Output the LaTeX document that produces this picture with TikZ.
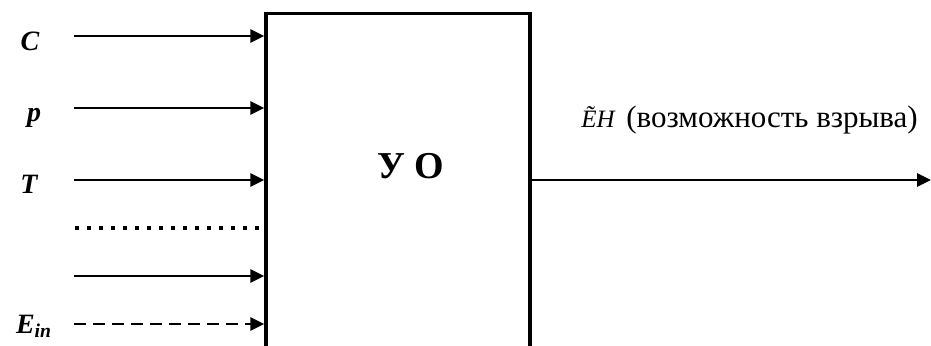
\documentclass[tikz,border=0pt]{standalone}
\usepackage{fontspec}
\setmainfont{Liberation Serif}
\usetikzlibrary{arrows.meta, positioning}

\begin{document}
\begin{tikzpicture}[x=0.5pt, y=-0.5pt,
  inarrow/.style={-{Triangle[length=7pt, width=6.5pt]}, line width=1.3pt},
  invar/.style={anchor=base, font=\fontsize{14}{16}\selectfont\bfseries\itshape},
  block/.style={rectangle, draw, line width=1.7pt, minimum width=132pt,
                minimum height=200pt, anchor=north, inner sep=0pt}
]
\useasboundingbox (0,0) rectangle (931,345);
\clip (0,0) rectangle (931,345);

% object block
\node[block] (uo) at (398,12) {};
\node[anchor=base, font=\fontsize{19}{22}\selectfont\bfseries] (uotext) at (411,178) {У О};

% inputs
\node[invar] (c) at (30,50) {C};
\node[invar] (p) at (34,121) {p};
\node[invar] (t) at (29,193) {T};
\node[invar, anchor=base west] (ein) at (9,333) {E\textsubscript{in}};

\coordinate (cin) at (74,36);
\coordinate (pin) at (74,108);
\coordinate (tin) at (74,180);
\coordinate (dotin) at (75,228);
\coordinate (xin) at (74,276);
\coordinate (ein0) at (74,324);

\draw[inarrow] (cin) -- (cin -| uo.west);
\draw[inarrow] (pin) -- (pin -| uo.west);
\draw[inarrow] (tin) -- (tin -| uo.west);
\draw[line width=2pt, dash pattern=on 2pt off 4pt] (dotin) -- ([xshift=-2pt]dotin -| uo.west);
\draw[inarrow] (xin) -- (xin -| uo.west);
\draw[inarrow, dash pattern=on 6pt off 3.5pt] (ein0) -- (ein0 -| uo.west);

% output
\coordinate (out) at (931,180);
\draw[inarrow] (out -| uo.east) -- (out);
\node[anchor=base west, inner sep=0pt, font=\fontsize{12.5}{14}\selectfont\itshape] (eh) at (581,127) {\~{E}H};
\node[anchor=base west, inner sep=0pt, font=\fontsize{15.5}{18}\selectfont] (expl) at (626,127) {(возможность взрыва)};
\end{tikzpicture}
\end{document}
